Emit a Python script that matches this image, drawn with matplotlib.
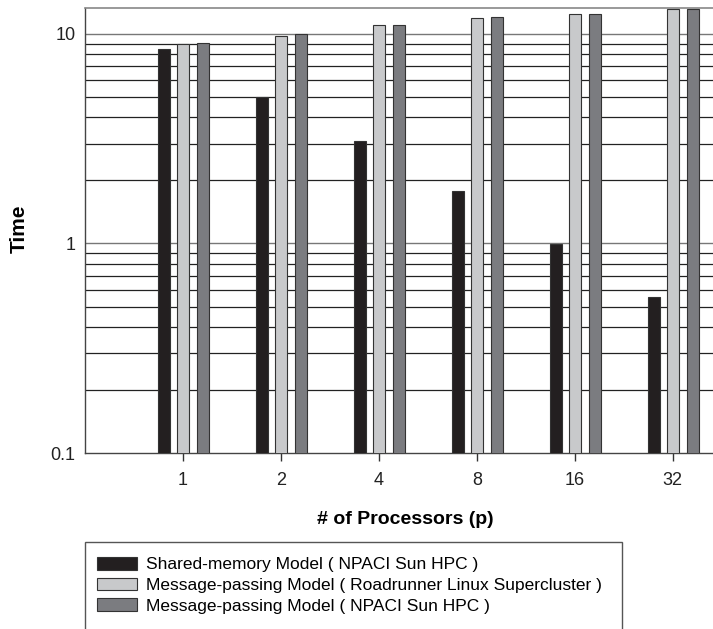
import numpy as np
import matplotlib
matplotlib.use('Agg')
import matplotlib.pyplot as plt
from matplotlib.patches import Rectangle, Patch

plt.rcParams['font.family'] = ['Liberation Sans', 'DejaVu Sans']

# data
procs = ['1', '2', '4', '8', '16', '32']
shared_sun = [8.5, 5.0, 3.1, 1.78, 0.99, 0.555]
mp_roadrunner = [9.0, 9.8, 11.0, 11.9, 12.4, 13.1]
mp_sun = [9.05, 9.95, 11.05, 12.0, 12.5, 13.2]
labels = ['Shared-memory Model ( NPACI Sun HPC )',
          'Message-passing Model ( Roadrunner Linux Supercluster )',
          'Message-passing Model ( NPACI Sun HPC )']
colors = ['#231f20', '#c8c9cb', '#7b7c80']

W, H = 713, 629
fig = plt.figure(figsize=(W / 100, H / 100), dpi=100)
ax = fig.add_axes([85 / W, 1 - 453 / H, (W - 85) / W, (453 - 8) / H])

x = np.arange(1, len(procs) + 1)
bw = 0.12
offsets = [-0.195, 0.0, 0.205]
for vals, off, c in zip([shared_sun, mp_roadrunner, mp_sun], offsets, colors):
    ax.bar(x + off, vals, width=bw, color=c, edgecolor='#333333', linewidth=0.8,
           zorder=3)

ax.set_yscale('log')
ax.set_ylim(0.1, 13.3)
ax.set_xlim(0, 6.41)

# horizontal grid lines
grid_vals = [v * d for d in (0.1, 1.0) for v in range(1, 10)] + [10.0]
for g in grid_vals[1:]:
    col = '#777777' if g in (1.0, 10.0) else '#222222'
    ax.axhline(g, color=col, linewidth=1.0 if g in (1.0, 10.0) else 0.9, zorder=1)

ax.set_yticks([0.1, 1, 10])
ax.set_yticklabels(['0.1', '1', '10'], fontsize=13, color='#222222')
ax.yaxis.set_minor_locator(matplotlib.ticker.NullLocator())
ax.tick_params(axis='y', length=0, pad=7)
ax.set_xticks(x)
ax.set_xticklabels(procs, fontsize=13, color='#222222')
ax.tick_params(axis='x', direction='out', length=6, width=1, color='#333333', pad=8)

for s in ['left', 'bottom']:
    ax.spines[s].set_color('#444444')
    ax.spines[s].set_linewidth(1)
ax.spines['top'].set_color('#888888')
ax.spines['top'].set_linewidth(1.2)
ax.spines['right'].set_visible(False)

fig.text(19 / W, 1 - 229 / H, 'Time', fontsize=15, fontweight='bold',
         rotation=90, ha='center', va='center')
fig.text(405 / W, 1 - 520 / H, '# of Processors (p)', fontsize=14,
         fontweight='bold', ha='center', va='center')

# legend box
fig.patches.append(Rectangle((85 / W, -0.05), (622 - 85) / W, 0.05 + 1 - 542 / H,
                             transform=fig.transFigure, fill=False,
                             edgecolor='#555555', linewidth=1))
handles = [Patch(facecolor=c, edgecolor='#333333', linewidth=0.8) for c in colors]
fig.legend(handles, labels, loc='upper left',
           bbox_to_anchor=(97 / W, 1 - 557 / H), frameon=False, fontsize=12.5,
           handlelength=2.3, handleheight=0.75, handletextpad=0.55,
           labelspacing=0.3, borderpad=0, borderaxespad=0)

fig.savefig('out.png', dpi=100)
